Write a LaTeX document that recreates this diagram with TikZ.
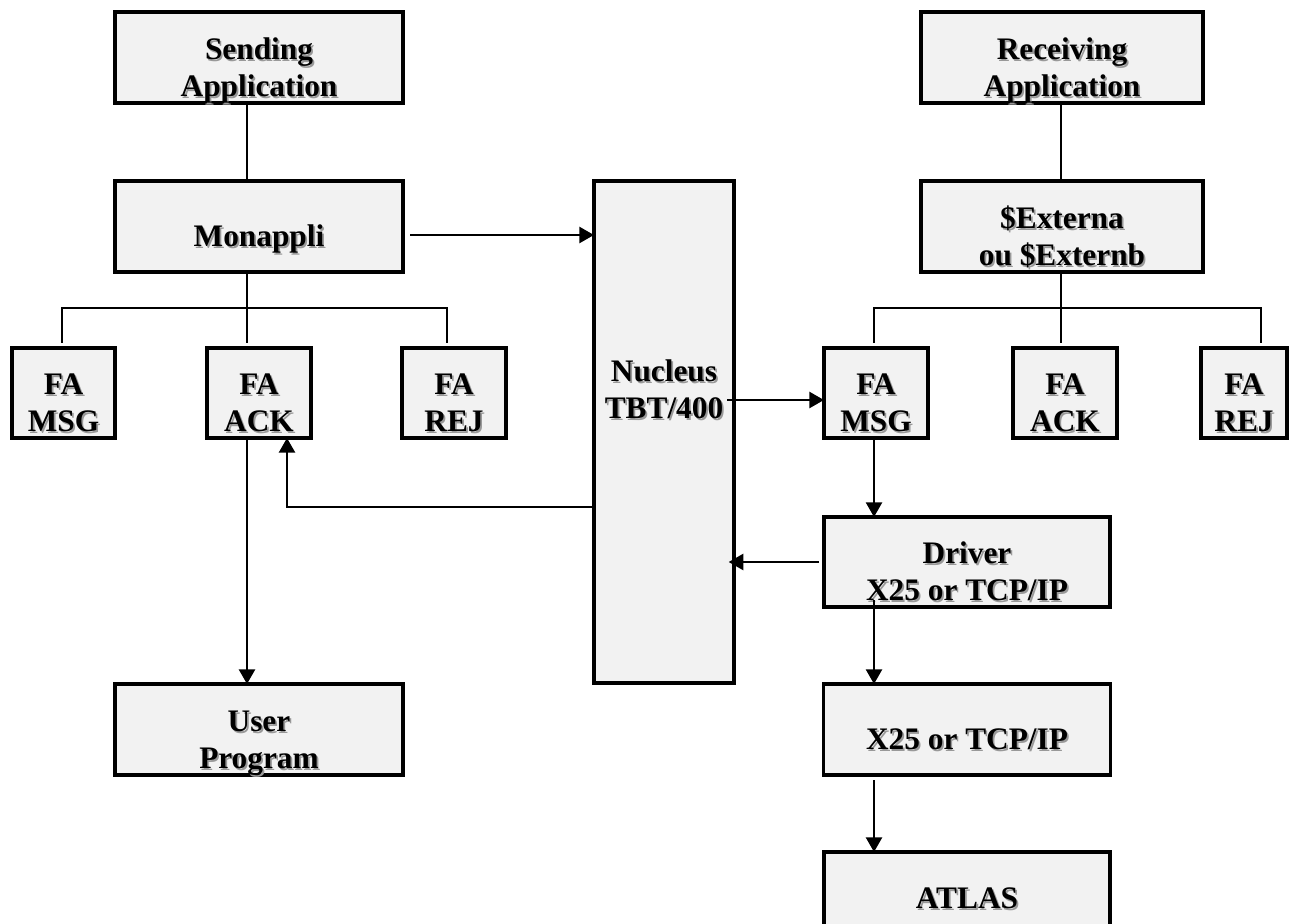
\documentclass[tikz,border=0pt]{standalone}
\usepackage{fontspec}
\setmainfont{Liberation Serif}
\usetikzlibrary{arrows.meta}
\definecolor{boxfill}{HTML}{F2F2F2}
% bold text with a soft grey drop shadow
\newcommand\shd[1]{\strut\rlap{\kern1.3pt\raisebox{-1.3pt}{\color{black!40}#1}}#1}
\tikzset{
  box/.style 2 args={draw, line width=2.5pt, fill=boxfill,
    minimum width=#1*0.75pt, minimum height=#2*0.75pt,
    inner sep=0pt, outer sep=0pt},
  txt/.style={font=\fontsize{23.5}{27.75}\selectfont\bfseries,
    align=center, inner sep=0pt},
  wire/.style={line width=1.9pt},
  arr/.style={wire, -{Triangle[length=11pt,width=12pt]}},
}
\begin{document}
\begin{tikzpicture}[x=0.75pt,y=-0.75pt]
\useasboundingbox (0,0) rectangle (1289,924);

% ---- boxes ----
\node[box={288}{91}] (sendApp) at (259,57.5) {};
\node[box={282}{91}] (recvApp) at (1062,57.5) {};
\node[box={288}{91}] (mon) at (259,226.5) {};
\node[box={282}{91}] (ext) at (1062,226.5) {};
\node[box={103}{90}] (msgL) at (63.5,393) {};
\node[box={104}{90}] (ackL) at (259,393) {};
\node[box={104}{90}] (rejL) at (454,393) {};
\node[box={140}{502}] (nucleus) at (664,432) {};
\node[box={104}{90}] (msgR) at (876,393) {};
\node[box={104}{90}] (ackR) at (1065,393) {};
\node[box={86}{90}] (rejR) at (1244,393) {};
\node[box={286}{90}] (driver) at (967,562) {};
\node[box={287}{91}] (x25) at (967,729.5) {};
\node[box={288}{91}] (user) at (259,729.5) {};
\node[box={286}{91}] (atlas) at (967,897.5) {};

% ---- labels ----
\node[txt] (tSend) at (259,70.5) {\shd{Sending}\\\shd{Application}};
\node[txt] (tRecv) at (1062,70.5) {\shd{Receiving}\\\shd{Application}};
\node[txt] (tMon) at (259,239.5) {\shd{Monappli}};
\node[txt] (tExt) at (1062,239.5) {\shd{\$Externa}\\\shd{ou \$Externb}};
\node[txt] (tMsgL) at (63.5,406) {\shd{FA}\\\shd{MSG}};
\node[txt] (tAckL) at (259,406) {\shd{FA}\\\shd{ACK}};
\node[txt] (tRejL) at (454,406) {\shd{FA}\\\shd{REJ}};
\node[txt] (tNuc) at (664,393) {\shd{Nucleus}\\\shd{TBT/400}};
\node[txt] (tMsgR) at (876,406) {\shd{FA}\\\shd{MSG}};
\node[txt] (tAckR) at (1065,406) {\shd{FA}\\\shd{ACK}};
\node[txt] (tRejR) at (1244,406) {\shd{FA}\\\shd{REJ}};
\node[txt] (tDrv) at (967,575) {\shd{Driver}\\\shd{X25 or TCP/IP}};
\node[txt] (tX25) at (967,742.5) {\shd{X25 or TCP/IP}};
\node[txt] (tUser) at (259,742.5) {\shd{User}\\\shd{Program}};
\node[txt] (tAtlas) at (967,901) {\shd{ATLAS}};

% ---- sending side tree ----
\coordinate (trunkL) at (247,308);
\coordinate (busL1) at (62,308);
\coordinate (busL2) at (447,308);
\draw[wire] (trunkL |- sendApp.south) -- (trunkL |- mon.north);
\draw[wire, shorten >=4pt] (trunkL |- mon.south) -- (trunkL |- ackL.north);
\draw[wire, shorten <=4pt, shorten >=4pt]
  (busL1 |- msgL.north) -- (busL1) -- (busL2) -- (busL2 |- rejL.north);

% ---- receiving side tree ----
\coordinate (trunkR) at (1061,308);
\coordinate (busR1) at (874,308);
\coordinate (busR2) at (1261,308);
\draw[wire] (trunkR |- recvApp.south) -- (trunkR |- ext.north);
\draw[wire, shorten >=4pt] (trunkR |- ext.south) -- (trunkR |- ackR.north);
\draw[wire, shorten <=4pt, shorten >=4pt]
  (busR1 |- msgR.north) -- (busR1) -- (busR2) -- (busR2 |- rejR.north);

% ---- message flow ----
\coordinate (m1) at (410,235);
\draw[arr] (m1) -- (m1 -| nucleus.west);
\coordinate (n1) at (727,400);
\draw[arr] (n1) -- (n1 -| msgR.west);
\coordinate (r1) at (874,438);
\draw[arr] (r1 |- msgR.south) -- (r1 |- driver.north);
\coordinate (d1) at (819,562);
\draw[arr, shorten >=-4pt] (d1) -- (d1 -| nucleus.east);
\coordinate (n2) at (594,507);
\coordinate (a1) at (287,438);
\draw[arr] (n2 -| nucleus.west) -| (a1 |- ackL.south);
\draw[arr] (trunkL |- ackL.south) -- (trunkL |- user.north);
\coordinate (d2) at (874,600);
\draw[arr] (d2) -- (d2 |- x25.north);
\coordinate (x1) at (874,780);
\draw[arr] (x1) -- (x1 |- atlas.north);
\end{tikzpicture}
\end{document}
